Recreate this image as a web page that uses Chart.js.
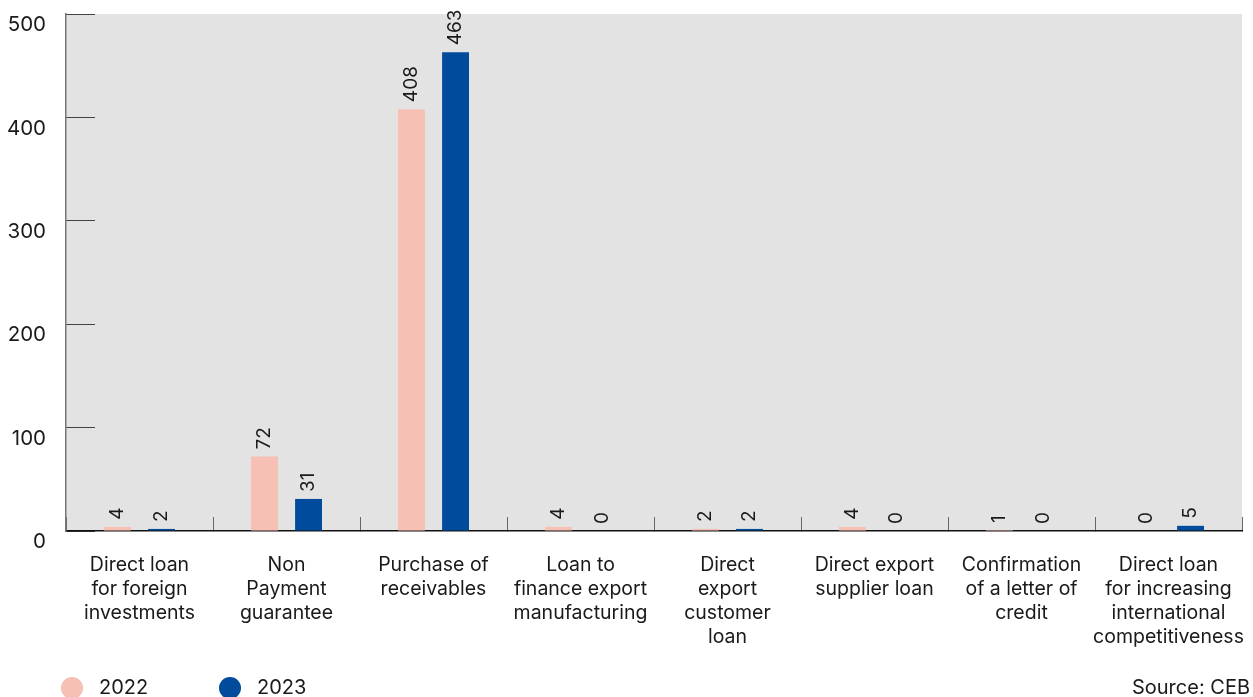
<!DOCTYPE html>
<html>
<head>
<meta charset="utf-8">
<script src="https://cdn.jsdelivr.net/npm/chart.js@4/dist/chart.umd.min.js"></script>
<style>
  html, body { margin: 0; padding: 0; background: #ffffff; }
  canvas { display: block; }
</style>
</head>
<body>
<canvas id="chart" width="1253" height="697"></canvas>
<script>
// Financing instruments, number of deals per year
const categories = [
  ['Direct loan', 'for foreign', 'investments'],
  ['Non', 'Payment', 'guarantee'],
  ['Purchase of', 'receivables'],
  ['Loan to', 'finance export', 'manufacturing'],
  ['Direct', 'export', 'customer', 'loan'],
  ['Direct export', 'supplier loan'],
  ['Confirmation', 'of a letter of', 'credit'],
  ['Direct loan', 'for increasing', 'international', 'competitiveness']
];
const values2022 = [4, 72, 408, 4, 2, 4, 1, 0];
const values2023 = [2, 31, 463, 0, 2, 0, 0, 5];
const seriesNames = ['2022', '2023'];
const yTickValues = [0, 100, 200, 300, 400, 500];
const sourceNote = 'Source: CEB';

const FONT = 'Inter, "Liberation Sans", Arial, sans-serif';
const TEXT = '#1a1a1a';
const PINK = '#f6c0b4';
const BLUE = '#004b9b';
const PLOT_BG = '#e3e3e3';

// grey panel behind the plotting area
const plotBackground = {
  id: 'plotBackground',
  beforeDraw(chart) {
    const { ctx, chartArea: a } = chart;
    ctx.save();
    ctx.fillStyle = PLOT_BG;
    ctx.fillRect(a.left, a.top, a.right - a.left, a.bottom - a.top);
    ctx.restore();
  }
};

// vertical value labels above every bar
const valueLabels = {
  id: 'valueLabels',
  afterDatasetsDraw(chart) {
    const { ctx } = chart;
    ctx.save();
    ctx.font = '19px ' + FONT;
    ctx.fillStyle = TEXT;
    ctx.textAlign = 'left';
    ctx.textBaseline = 'middle';
    chart.data.datasets.forEach((ds, di) => {
      const meta = chart.getDatasetMeta(di);
      meta.data.forEach((bar, i) => {
        ctx.save();
        ctx.translate(bar.x, bar.y - 7);
        ctx.rotate(-Math.PI / 2);
        ctx.fillText(String(ds.data[i]), 0, 0);
        ctx.restore();
      });
    });
    ctx.restore();
  }
};

// round-marker legend on the left, source note on the right
const footer = {
  id: 'footer',
  afterDraw(chart) {
    const { ctx } = chart;
    const y = 688;
    ctx.save();
    ctx.font = '20px ' + FONT;
    ctx.textBaseline = 'middle';
    const starts = [61, 219];
    chart.data.datasets.forEach((ds, di) => {
      const x0 = starts[di];
      ctx.fillStyle = ds.backgroundColor;
      ctx.beginPath();
      ctx.arc(x0 + 11, y, 11, 0, Math.PI * 2);
      ctx.fill();
      ctx.fillStyle = TEXT;
      ctx.textAlign = 'left';
      ctx.fillText(ds.label, x0 + 38, y);
    });
    ctx.textAlign = 'right';
    ctx.fillText(sourceNote, 1250, y);
    ctx.restore();
  }
};

new Chart(document.getElementById('chart'), {
  type: 'bar',
  data: {
    labels: categories,
    datasets: [
      { label: seriesNames[0], data: values2022, backgroundColor: PINK },
      { label: seriesNames[1], data: values2023, backgroundColor: BLUE }
    ]
  },
  options: {
    responsive: false,
    animation: false,
    devicePixelRatio: 1,
    datasets: { bar: { barPercentage: 0.61, categoryPercentage: 0.6 } },
    layout: { padding: { top: 14, right: 11, left: 0, bottom: 0 } },
    plugins: { legend: { display: false }, tooltip: { enabled: false } },
    scales: {
      x: {
        grid: { offset: true, drawOnChartArea: false, drawTicks: true, tickLength: -14, color: '#666', lineWidth: 1 },
        border: { display: true, color: '#111', width: 1.5 },
        ticks: {
          padding: 36,
          maxRotation: 0,
          autoSkip: false,
          color: TEXT,
          font: { family: FONT, size: 19.5, lineHeight: 1.23 }
        },
        afterFit(scale) {
          scale.height = 166;
          scale.paddingLeft = 0;
          scale.paddingRight = 0;
        }
      },
      y: {
        min: 0,
        max: 500,
        afterBuildTicks(scale) { scale.ticks = yTickValues.map(v => ({ value: v })); },
        grid: { drawOnChartArea: false, drawTicks: true, tickLength: -29, color: '#444', lineWidth: 1 },
        border: { display: true, color: '#777', width: 1.5 },
        ticks: {
          padding: 49,
          labelOffset: 11,
          color: TEXT,
          font: { family: FONT, size: 20.5 }
        },
        afterFit(scale) {
          scale.width = 66;
          scale.paddingTop = 0;
          scale.paddingBottom = 0;
        }
      }
    }
  },
  plugins: [plotBackground, valueLabels, footer]
});
</script>
</body>
</html>
